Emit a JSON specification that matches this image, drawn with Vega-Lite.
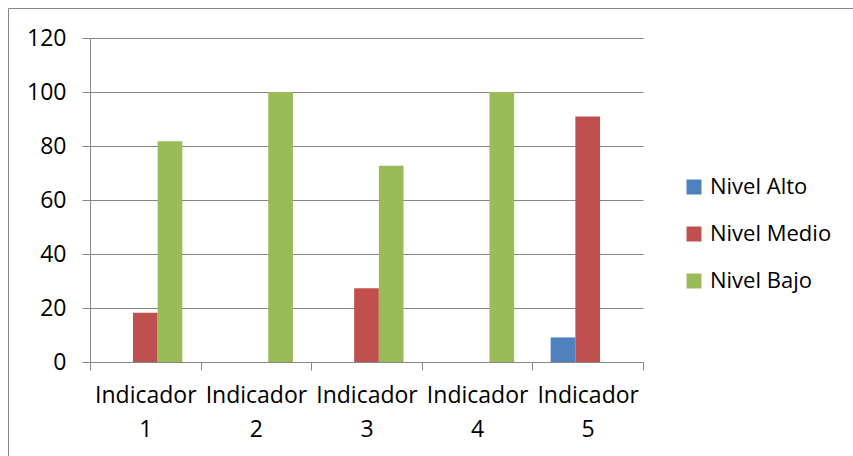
{
  "$schema": "https://vega.github.io/schema/vega-lite/v6.json",
  "width": 845,
  "height": 448,
  "padding": {"left": 8, "top": 8, "right": 0, "bottom": 0},
  "autosize": {"type": "none"},
  "background": "white",
  "config": {
    "view": {"stroke": "#868686", "strokeWidth": 1},
    "font": "Open Sans"
  },
  "data": {
    "values": [
      {"indicador": "Indicador 1", "nivel": "Nivel Alto", "valor": 0},
      {"indicador": "Indicador 1", "nivel": "Nivel Medio", "valor": 18.2},
      {"indicador": "Indicador 1", "nivel": "Nivel Bajo", "valor": 81.8},
      {"indicador": "Indicador 2", "nivel": "Nivel Alto", "valor": 0},
      {"indicador": "Indicador 2", "nivel": "Nivel Medio", "valor": 0},
      {"indicador": "Indicador 2", "nivel": "Nivel Bajo", "valor": 100},
      {"indicador": "Indicador 3", "nivel": "Nivel Alto", "valor": 0},
      {"indicador": "Indicador 3", "nivel": "Nivel Medio", "valor": 27.3},
      {"indicador": "Indicador 3", "nivel": "Nivel Bajo", "valor": 72.7},
      {"indicador": "Indicador 4", "nivel": "Nivel Alto", "valor": 0},
      {"indicador": "Indicador 4", "nivel": "Nivel Medio", "valor": 0},
      {"indicador": "Indicador 4", "nivel": "Nivel Bajo", "valor": 100},
      {"indicador": "Indicador 5", "nivel": "Nivel Alto", "valor": 9.1},
      {"indicador": "Indicador 5", "nivel": "Nivel Medio", "valor": 90.9},
      {"indicador": "Indicador 5", "nivel": "Nivel Bajo", "valor": 0}
    ]
  },
  "mark": {"type": "bar"},
  "encoding": {
    "x": {
      "field": "indicador",
      "type": "nominal",
      "scale": {"range": [82, 635], "paddingInner": 0, "paddingOuter": 0},
      "axis": {
        "title": null,
        "orient": "bottom",
        "offset": -94,
        "labelAngle": 0,
        "labelExpr": "split(datum.label, ' ')",
        "labelFontSize": 23,
        "labelColor": "#000000",
        "labelLineHeight": 34,
        "labelPadding": 14,
        "labelBaseline": "top",
        "tickBand": "extent",
        "tickSize": 8,
        "tickColor": "#868686",
        "domainColor": "#868686",
        "grid": false
      }
    },
    "xOffset": {
      "field": "nivel",
      "type": "nominal",
      "sort": ["Nivel Alto", "Nivel Medio", "Nivel Bajo"],
      "scale": {"paddingInner": 0, "paddingOuter": 0.74}
    },
    "y": {
      "field": "valor",
      "type": "quantitative",
      "scale": {"domain": [0, 120], "range": [354, 30], "nice": false},
      "axis": {
        "title": null,
        "offset": -82,
        "values": [0, 20, 40, 60, 80, 100, 120],
        "labelFontSize": 23,
        "labelColor": "#000000",
        "labelPadding": 16,
        "tickSize": 8,
        "tickColor": "#868686",
        "domainColor": "#868686",
        "grid": true,
        "gridColor": "#868686",
        "gridOpacity": 1
      }
    },
    "color": {
      "field": "nivel",
      "type": "nominal",
      "sort": ["Nivel Alto", "Nivel Medio", "Nivel Bajo"],
      "scale": {"domain": ["Nivel Alto", "Nivel Medio", "Nivel Bajo"], "range": ["#4F81BD", "#C0504D", "#9BBB59"]},
      "legend": {
        "title": null,
        "orient": "none",
        "legendX": 675,
        "legendY": 168,
        "symbolType": "square",
        "symbolSize": 225,
        "symbolStrokeWidth": 0,
        "symbolOpacity": 1,
        "labelFontSize": 22,
        "labelColor": "#000000",
        "labelOffset": 5,
        "rowPadding": 25
      }
    }
  }
}
